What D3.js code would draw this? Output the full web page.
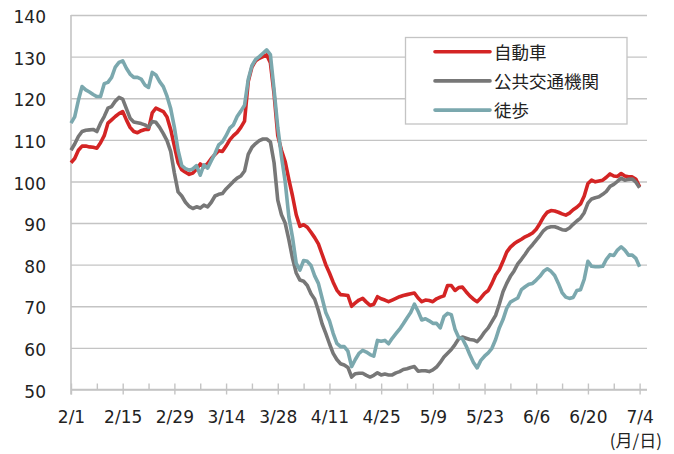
<!DOCTYPE html>
<html>
<head>
<meta charset="utf-8">
<script src="https://cdn.jsdelivr.net/npm/d3@7"></script>
<style>
  body { margin: 0; background: #fff; }
  svg { display: block; }
</style>
</head>
<body>
<div id="chart"></div>
<script>
// daily index values, 2/1 .. 7/4 (2020)
var start_date  = '2020/02/01';
var tick_labels = ['2/1', '2/15', '2/29', '3/14', '3/28', '4/11', '4/25', '5/9', '5/23', '6/6', '6/20', '7/4'];
var y_ticks     = [50, 60, 70, 80, 90, 100, 110, 120, 130, 140];
var series_names = ['自動車', '公共交通機関', '徒歩'];

var car = [
	104.5, 105.5, 107.5, 108.5, 108.5, 108.3, 108.2, 108.0, 109.3, 111.0,
	114.0, 114.8, 115.6, 116.3, 116.8, 114.8, 113.0, 112.0, 111.7, 112.2,
	112.5, 112.5, 116.5, 117.6, 117.2, 116.8, 115.5, 112.5, 108.5, 104.5,
	102.8, 102.2, 101.7, 102.0, 103.0, 104.2, 103.5, 104.3, 105.5, 106.5,
	107.4, 107.2, 108.5, 110.0, 111.0, 111.8, 113.0, 114.5, 124.0, 127.5,
	129.0, 129.6, 130.0, 130.4, 128.5, 121.0, 111.0, 107.5, 104.8, 100.5,
	96.5, 92.0, 89.2, 89.6, 89.0, 87.8, 86.5, 85.0, 82.5, 80.0,
	78.0, 75.8, 73.9, 72.8, 72.7, 72.6, 70.0, 70.8, 71.5, 71.9,
	71.0, 70.2, 70.5, 72.3, 71.8, 71.5, 71.1, 71.5, 71.9, 72.3,
	72.6, 72.8, 73.0, 73.2, 72.0, 71.1, 71.5, 71.4, 71.1, 71.8,
	72.2, 72.5, 75.0, 75.0, 73.8, 74.5, 74.6, 73.5, 72.5, 71.7,
	71.1, 72.0, 73.1, 73.8, 75.5, 77.5, 78.8, 80.8, 83.0, 84.2,
	85.0, 85.6, 86.1, 86.7, 87.1, 87.6, 88.5, 89.9, 91.5, 92.6,
	93.0, 92.9, 92.6, 92.2, 91.9, 92.4, 93.2, 93.8, 94.6, 96.5,
	99.5, 100.3, 99.9, 100.1, 100.3, 101.0, 101.8, 101.3, 101.2, 101.9,
	101.3, 101.1, 101.1, 100.5, 98.7
];

var transit = [
	107.5, 109.0, 110.8, 112.0, 112.3, 112.4, 112.5, 112.0, 114.0, 115.6,
	117.6, 118.0, 119.3, 120.2, 119.8, 117.5, 115.2, 114.3, 114.1, 113.9,
	113.6, 113.0, 114.4, 114.2, 113.0, 111.5, 109.8, 107.2, 102.0, 97.5,
	96.5, 95.0, 94.0, 93.5, 93.9, 93.6, 94.3, 93.9, 95.0, 96.5,
	96.9, 97.1, 98.2, 99.1, 100.0, 100.8, 101.3, 102.5, 106.5, 108.2,
	109.1, 109.8, 110.2, 110.2, 109.5, 104.5, 95.5, 92.0, 90.0, 86.0,
	81.5, 78.0, 76.3, 76.0, 75.0, 73.0, 71.7, 69.0, 65.8, 63.5,
	61.0, 58.7, 57.2, 56.2, 55.9, 55.3, 53.0, 53.8, 53.9, 53.9,
	53.4, 53.0, 53.4, 54.0, 53.5, 53.7, 53.5, 53.5, 54.0, 54.3,
	54.8, 55.0, 55.3, 55.5, 54.4, 54.5, 54.5, 54.3, 54.7, 55.4,
	56.5, 57.8, 58.7, 59.6, 60.8, 62.2, 62.6, 62.3, 62.0, 61.9,
	61.5, 62.5, 63.8, 64.8, 66.3, 67.8, 70.5, 73.5, 75.5, 77.2,
	78.5, 80.2, 81.3, 82.5, 83.8, 84.8, 85.9, 87.0, 88.2, 88.9,
	89.1, 89.1, 88.8, 88.4, 88.3, 88.8, 89.7, 90.5, 91.2, 92.5,
	94.8, 95.8, 96.1, 96.3, 96.9, 97.6, 98.8, 99.3, 100.0, 100.8,
	100.3, 100.5, 100.6, 99.8, 98.5
];

var walk = [
	114.0, 115.5, 119.5, 122.8, 122.0, 121.5, 120.9, 120.4, 120.4, 123.5,
	123.8, 125.0, 127.5, 128.6, 129.0, 127.2, 125.8, 125.0, 125.0, 124.6,
	123.2, 122.6, 126.2, 125.6, 124.0, 122.8, 120.5, 117.5, 113.0, 107.5,
	103.8, 103.1, 102.7, 103.0, 103.8, 101.5, 104.0, 103.2, 105.0, 106.7,
	108.8, 109.5, 111.0, 112.8, 113.6, 115.6, 116.9, 118.3, 124.5, 127.8,
	129.3, 130.0, 130.8, 131.6, 130.5, 122.0, 113.0, 106.0, 100.0, 91.5,
	86.5, 80.3, 78.7, 81.0, 80.8, 79.8, 77.3, 75.5, 72.0, 68.5,
	66.5, 63.5, 61.1, 60.3, 60.3, 59.2, 55.5, 57.2, 58.7, 59.4,
	59.0, 58.4, 58.0, 61.8, 61.6, 61.8, 61.0, 62.3, 63.4, 64.5,
	65.8, 67.2, 68.5, 70.5, 68.8, 66.7, 67.0, 66.5, 65.9, 65.9,
	64.8, 67.5, 68.3, 68.0, 64.5, 62.5, 62.2, 60.5, 58.4, 56.5,
	55.2, 57.0, 58.0, 58.8, 59.9, 62.0, 64.8, 66.8, 69.5, 71.0,
	71.5, 72.0, 74.0, 74.7, 75.3, 75.5, 76.3, 77.2, 78.4, 79.0,
	78.4, 77.4, 75.5, 73.3, 72.2, 71.9, 72.1, 73.8, 74.0, 76.5,
	80.8, 79.6, 79.5, 79.5, 79.6, 81.3, 82.4, 82.2, 83.5, 84.3,
	83.5, 82.3, 82.3, 81.5, 79.5
];

var series_values = [car, transit, walk];
var series_colors = ['#d42424', '#777777', '#7ba8ae'];

var width  = 674;
var height = 454;
var plot_left   = 71;
var plot_right  = 647;
var plot_top    = 15;
var plot_bottom = 389.5;
var grid_color  = '#c4c4c4';
var font_latin  = '"DejaVu Sans", Verdana, sans-serif';
var font_jp     = '"Noto Sans CJK JP", sans-serif';

var parse_date = d3.utcParse('%Y/%m/%d');
var t0 = parse_date(start_date);

// Scales
var x_scale = d3.scaleUtc()
				.domain([t0, d3.utcDay.offset(t0, 156)])
				.range([plot_left, plot_right]);
var y_scale = d3.scaleLinear()
				.domain([50, 140])
				.range([plot_bottom, plot_top]);

var svg = d3.select('#chart')
			.append('svg')
			.attr('width', width)
			.attr('height', height);

svg.append('rect')
   .attr('width', width)
   .attr('height', height)
   .attr('fill', '#fff');

// y-axis with gridlines
var y_axis = d3.axisLeft(y_scale)
			   .tickValues(y_ticks)
			   .tickSize(-(plot_right - plot_left))
			   .tickSizeOuter(0)
			   .tickPadding(25);

var gy = svg.append('g')
			.attr('transform', 'translate(' + plot_left + ',0)')
			.call(y_axis);
gy.select('.domain').remove();
gy.selectAll('line').attr('stroke', grid_color).attr('stroke-width', 1.4);
gy.selectAll('text')
  .attr('font-family', font_latin)
  .attr('font-size', 17)
  .attr('fill', '#222')
  .attr('dy', '0.45em');

// x-axis: weekly ticks pointing up, fortnightly ones pointing down with labels
var major_ticks = tick_labels.map(function(l) { return parse_date('2020/' + l); });
var all_ticks = [];
major_ticks.forEach(function(d, i) {
	all_ticks.push(d);
	if (i < major_ticks.length - 1) all_ticks.push(d3.utcDay.offset(d, 7));
});

var x_minor = d3.axisBottom(x_scale)
				.tickValues(all_ticks)
				.tickSize(-6)
				.tickSizeOuter(0)
				.tickFormat('');
var gx1 = svg.append('g')
			 .attr('transform', 'translate(0,' + plot_bottom + ')')
			 .call(x_minor);
gx1.select('.domain').remove();

var x_major = d3.axisBottom(x_scale)
				.tickValues(major_ticks)
				.tickSize(5)
				.tickSizeOuter(0)
				.tickPadding(16)
				.tickFormat(function(d, i) { return tick_labels[i]; });
var gx2 = svg.append('g')
			 .attr('transform', 'translate(0,' + plot_bottom + ')')
			 .call(x_major);
gx2.select('.domain').remove();
gx2.selectAll('text')
   .attr('font-family', font_latin)
   .attr('font-size', 17)
   .attr('fill', '#222');

svg.selectAll('.tick line').attr('stroke', grid_color).attr('stroke-width', 1.4);

// axis lines
svg.append('line')
   .attr('x1', plot_left).attr('x2', plot_right)
   .attr('y1', plot_bottom).attr('y2', plot_bottom)
   .attr('stroke', grid_color).attr('stroke-width', 1.6);
svg.append('line')
   .attr('x1', plot_left).attr('x2', plot_left)
   .attr('y1', plot_top).attr('y2', plot_bottom + 5)
   .attr('stroke', grid_color).attr('stroke-width', 1.6);

// lines
var line = d3.line()
			 .x(function(d, i) { return x_scale(d3.utcDay.offset(t0, i)); })
			 .y(function(d) { return y_scale(d); });

series_values.forEach(function(vals, k) {
	svg.append('path')
	   .datum(vals)
	   .attr('fill', 'none')
	   .attr('stroke', series_colors[k])
	   .attr('stroke-width', 3.6)
	   .attr('stroke-linejoin', 'round')
	   .attr('d', line);
});

// legend
var legend = svg.append('g');
legend.append('rect')
	  .attr('x', 405.5).attr('y', 37.5)
	  .attr('width', 221.5).attr('height', 86.5)
	  .attr('fill', '#fff')
	  .attr('stroke', grid_color)
	  .attr('stroke-width', 1.3);

series_names.forEach(function(name, k) {
	var ly = 51.7 + k * 29.2;
	legend.append('line')
		  .attr('x1', 435).attr('x2', 490)
		  .attr('y1', ly).attr('y2', ly)
		  .attr('stroke', series_colors[k])
		  .attr('stroke-width', 3.6)
		  .attr('stroke-linecap', 'round');
	legend.append('text')
		  .attr('x', 494)
		  .attr('y', ly + 7)
		  .attr('font-family', font_jp)
		  .attr('font-size', 17.5)
		  .attr('fill', '#222')
		  .text(name);
});

// unit label
svg.append('text')
   .attr('x', 662)
   .attr('y', 447)
   .attr('text-anchor', 'end')
   .attr('font-family', font_jp)
   .attr('font-size', 17)
   .attr('fill', '#222')
   .text('(月/日)');
</script>
</body>
</html>
